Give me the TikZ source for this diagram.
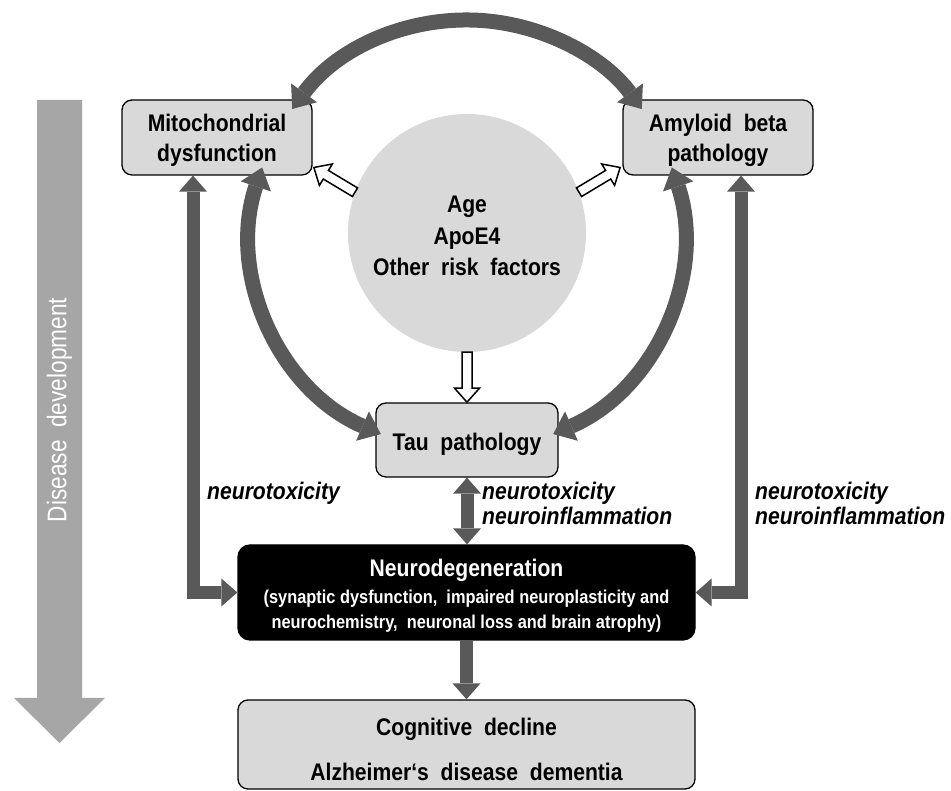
\documentclass[tikz,border=0pt]{standalone}
\usepackage{fontspec}
\setmainfont{Liberation Sans}[FakeStretch=0.88]
\newfontfamily\condfont{Liberation Sans}[FakeStretch=0.84]
\usetikzlibrary{arrows.meta}
\definecolor{boxgray}{HTML}{D9D9D9}
\definecolor{arrgray}{HTML}{595959}
\definecolor{devgray}{HTML}{A6A6A6}
\newcommand{\hs}[1]{\rule{0pt}{#1pt}}
\newcommand{\ds}[1]{\rule[-#1pt]{0pt}{#1pt}}
\newcommand{\fbig}{\fontsize{24}{30}\selectfont\bfseries}
\newcommand{\fsmall}{\fontsize{18.6}{25}\selectfont\bfseries}
\tikzset{
  gtip/.tip={Triangle[width=28pt,length=16pt,line width=0pt]},
  atip/.tip={Triangle[width=32pt,length=20pt,line width=0pt]},
  box/.style={draw=black, line width=1.3pt, fill=boxgray, rounded corners=10pt, inner sep=0pt, align=center, font=\fbig},
  garrow/.style={draw=arrgray, line width=13pt, line join=miter},
  garc/.style={draw=arrgray, line width=15pt},
  hollow/.style={draw=black, fill=white, line width=1.5pt, line join=miter},
  lab/.style={font=\fontsize{24}{25}\selectfont\bfseries\itshape, inner sep=0pt, anchor=base west},
  wtxt/.style={text=white, inner sep=0pt, anchor=base},
  btxt/.style={text=black, inner sep=0pt, anchor=base},
}
\newcommand{\hollowarrow}[3]{%
  \begin{scope}[shift={#1}, rotate=#2]
    \draw[hollow] (0,-5) -- ({#3-14},-5) -- ({#3-14},-12.5) -- (#3,0) -- ({#3-14},12.5) -- ({#3-14},5) -- (0,5) -- cycle;
  \end{scope}}
\begin{document}
\begin{tikzpicture}[x=1pt,y=1pt]
\path[use as bounding box, fill=white] (0,0) rectangle (951,791);

% disease development arrow
\fill[devgray] (37,691) -- (82,691) -- (82,93) -- (105,93) -- (59.5,48) -- (14,93) -- (37,93) -- cycle;
\node[rotate=90, text=white, inner sep=0pt, font=\condfont\fontsize{27}{30}\selectfont] (dev) at (59.5,381) {Disease\ \ development};

% central circle
\node[circle, fill=boxgray, minimum size=238pt, inner sep=0pt, align=center,
      font=\fontsize{24}{31.5}\selectfont\bfseries] (risk) at (467,558)
      {\hs{28.2}Age\\ApoE4\\Other\ \ risk\ \ factors\ds{6}};

% boxes
\node[box, minimum width=190pt, minimum height=75pt] (mito) at (217,653.5) {\hs{24.2}Mitochondrial\\dysfunction\ds{6}};
\node[box, minimum width=190pt, minimum height=75pt] (amy) at (718,653.5) {\hs{24.2}Amyloid\ \ beta\\pathology\ds{6}};
\node[box, minimum width=182pt, minimum height=74pt] (tau) at (467,351) {\hs{27.2}Tau\ \ pathology\ds{6}};
\node[box, fill=black, rounded corners=12pt, minimum width=457pt, minimum height=95pt] (neuro) at (466.5,198.5) {};
\node[box, minimum width=457pt, minimum height=89pt] (cog) at (466.5,46.5) {};

\node[wtxt, font=\fbig] (neurot) at (466.5,214.4) {Neurodegeneration};
\node[wtxt, font=\fsmall] (neurol2) at (466.5,187.4) {(synaptic dysfunction,\ \ impaired neuroplasticity and};
\node[wtxt, font=\fsmall] (neurol3) at (466.5,162.4) {neurochemistry,\ \ neuronal loss and brain atrophy)};
\node[btxt, font=\fbig] (cogl1) at (466.5,55.4) {Cognitive\ \ decline};
\node[btxt, font=\fbig] (cogl2) at (466.5,10.4) {Alzheimer‘s\ \ disease\ \ dementia};

% labels
\node[lab] (lab1) at (207,291) {neurotoxicity};
\node[lab] (lab2a) at (482,291) {neurotoxicity};
\node[lab] (lab2b) at (482,266) {neuroinflammation};
\node[lab] (lab3a) at (755,291) {neurotoxicity};
\node[lab] (lab3b) at (755,266) {neuroinflammation};

% circular arrows
\coordinate (cc) at (467,555);
\draw[garc, atip-atip] ([shift={(144:216)}]cc) arc[start angle=144, end angle=36, radius=216];
\draw[garc, atip-atip] ([shift={(161.5:216)}]cc) arc[start angle=161.5, end angle=246.5, radius=216];
\draw[garc, atip-atip] ([shift={(18.5:216)}]cc) arc[start angle=18.5, end angle=-66.5, radius=216];

% straight arrows
\coordinate (lx) at (193,0);
\coordinate (rx) at (741,0);
\draw[garrow, gtip-gtip] (lx |- mito.south) -- (lx |- neuro.west) -- (neuro.west);
\draw[garrow, gtip-gtip] (rx |- amy.south) -- (rx |- neuro.east) -- (neuro.east);
\draw[garrow, gtip-gtip] (tau.south) -- (tau.south |- neuro.north);
\draw[garrow, -gtip] (neuro.south) -- (cog.north);

% hollow arrows
\hollowarrow{(risk.160)}{149}{48}
\hollowarrow{(risk.20)}{31}{48}
\hollowarrow{(risk.south)}{-90}{50}
\end{tikzpicture}
\end{document}
